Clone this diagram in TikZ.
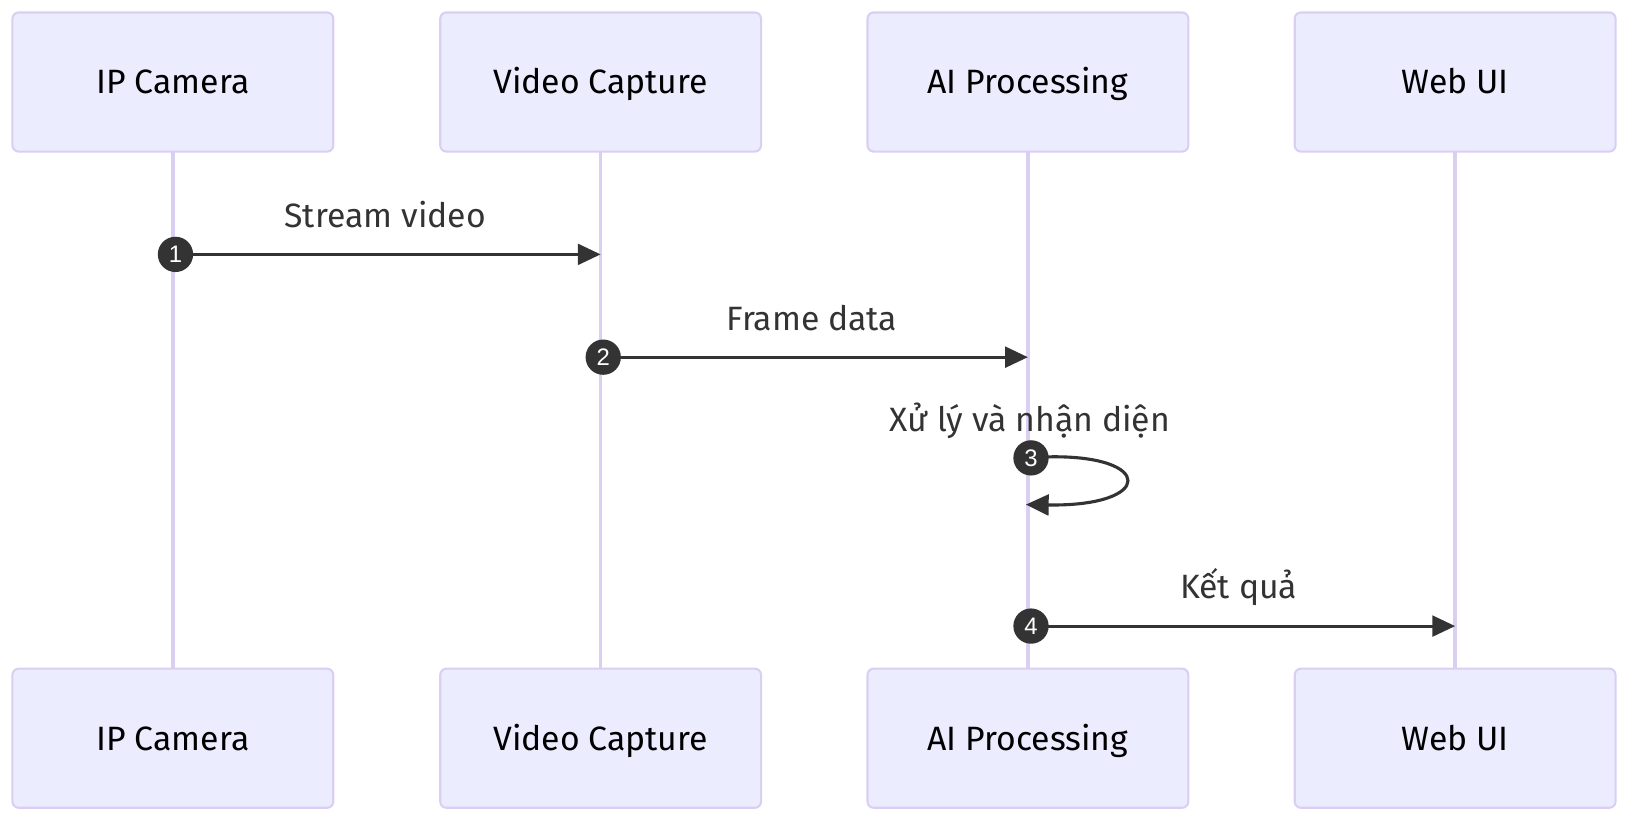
\documentclass[tikz,border=0pt]{standalone}
\usepackage{fontspec}
\setmainfont{Fira Sans}
\newfontfamily\numfont{Liberation Sans}
\usetikzlibrary{arrows.meta}
\definecolor{actfill}{HTML}{ECECFF}
\definecolor{actline}{HTML}{DACEF3}
\definecolor{ink}{HTML}{333333}
\begin{document}
\begin{tikzpicture}[x=1pt,y=-1pt,
  actor/.style={draw=actline,line width=2pt,fill=actfill,rounded corners=6pt,
    minimum width=309pt,minimum height=134pt,inner sep=0pt,
    text height=23pt,text depth=0pt,
    font=\fontsize{32.5}{38}\selectfont,text=black},
  lifeline/.style={draw=actline,line width=3.5pt},
  msg/.style={draw=ink,line width=3pt,-{Triangle[length=22pt,width=20pt]}},
  num/.style={circle,fill=ink,text=white,minimum size=34pt,inner sep=0pt,
    font=\numfont\fontsize{23}{24}\selectfont},
  lbl/.style={text=ink,font=\fontsize{32.5}{38}\selectfont,inner sep=0pt}]
\useasboundingbox (0,0) rectangle (1568,788);
% lifelines first (behind boxes)
\coordinate (l1t) at (166.5,146); \coordinate (l1b) at (166.5,644);
\coordinate (l2t) at (578.5,146); \coordinate (l2b) at (578.5,644);
\coordinate (l3t) at (990,146); \coordinate (l3b) at (990,644);
\coordinate (l4t) at (1401.5,146); \coordinate (l4b) at (1401.5,644);
\draw[lifeline] (l1t) -- (l1b);
\draw[lifeline] (l2t) -- (l2b);
\draw[lifeline] (l3t) -- (l3b);
\draw[lifeline] (l4t) -- (l4b);
% actors
\node[actor] (a1) at (166.5,79) {IP Camera};
\node[actor] (a2) at (578.5,79) {Video Capture};
\node[actor] (a3) at (990,79) {AI Processing};
\node[actor] (a4) at (1401.5,79) {Web UI};
\node[actor] (b1) at (166.5,711) {IP Camera};
\node[actor] (b2) at (578.5,711) {Video Capture};
\node[actor] (b3) at (990,711) {AI Processing};
\node[actor] (b4) at (1401.5,711) {Web UI};
% message 1
\node[lbl] (t1) at (371,207) {Stream video};
\coordinate (m1e) at (578.5,245);
\draw[msg] (169,245) -- (m1e);
\node[num] (n1) at (169,245) {1};
% message 2
\node[lbl] (t2) at (782,306) {Frame data};
\coordinate (m2e) at (990,344);
\draw[msg] (581,344) -- (m2e);
\node[num] (n2) at (581,344) {2};
% message 3 (self)
\node[lbl] (t3) at (992,405) {Xử lý và nhận diện};
\coordinate (m3e) at (988,486);
\draw[msg] (993,441) -- (1010,440) .. controls (1112,438) and (1112,488) .. (m3e);
\node[num] (n3) at (993,441) {3};
% message 4
\node[lbl] (t4) at (1193,565) {Kết quả};
\coordinate (m4e) at (1401.5,603);
\draw[msg] (993,603) -- (m4e);
\node[num] (n4) at (993,603) {4};
\end{tikzpicture}
\end{document}
